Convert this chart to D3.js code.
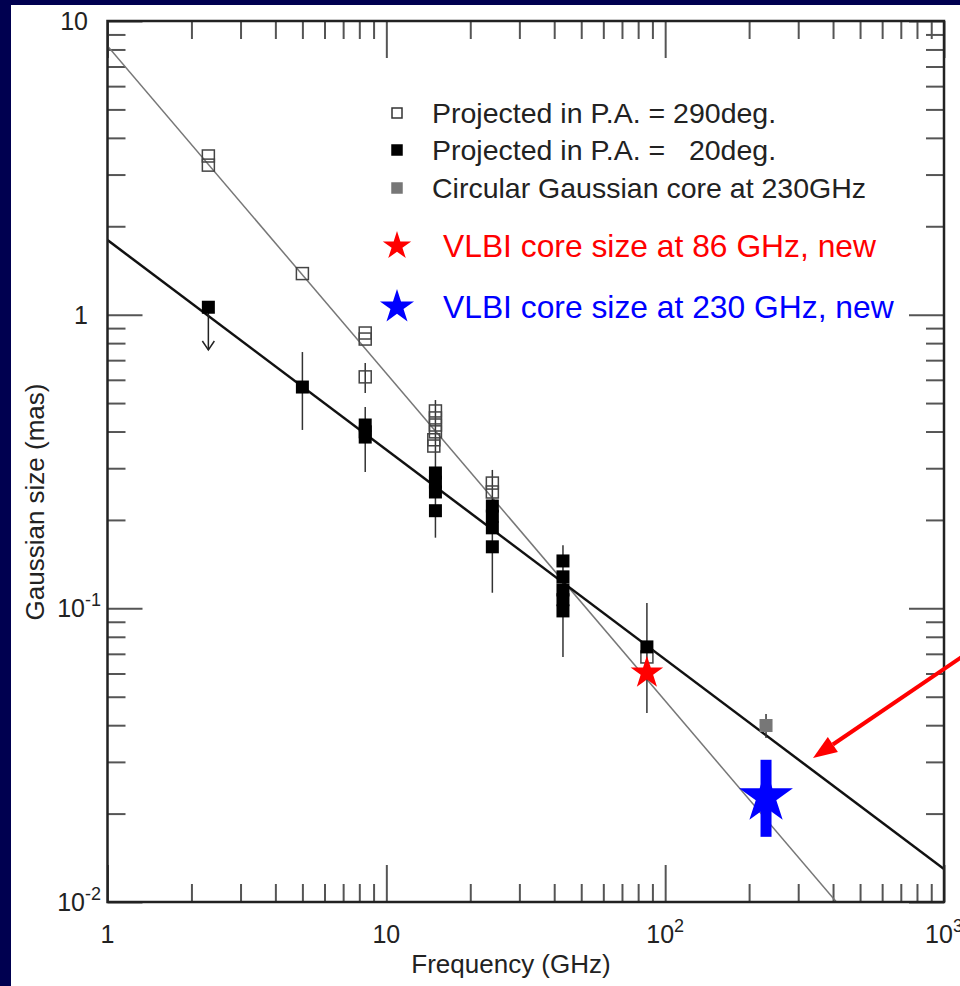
<!DOCTYPE html>
<html><head><meta charset="utf-8">
<script src="https://cdn.jsdelivr.net/npm/d3@7"></script>
<style>html,body{margin:0;padding:0;background:#000050;}svg{display:block;} text{white-space:pre;}</style>
</head><body>
<svg id="chart" width="960" height="986"></svg>
<script>
// ---- data ----
const openFreq = [2.3, 2.3, 5.0, 8.4, 8.4, 8.4, 15, 15, 15, 15, 14.8, 14.8, 24, 24, 86];
const openSize = [3.47, 3.23, 1.38, 0.866, 0.826, 0.614, 0.470, 0.445, 0.421, 0.399, 0.375, 0.357, 0.267, 0.249, 0.0683];
const filledFreq = [2.3, 5.0, 8.4, 8.4, 8.4, 15, 15, 15, 15, 24, 24, 24, 24, 43, 43, 43, 43, 43, 86];
const filledSize = [1.06, 0.567, 0.421, 0.399, 0.383, 0.289, 0.269, 0.249, 0.215, 0.223, 0.206, 0.188, 0.162, 0.145, 0.128, 0.1155, 0.107, 0.098, 0.0739];
const grayFreq = [230];
const graySize = [0.0399];
const errFreq = [5.0, 8.4, 8.4, 15, 24, 43, 86, 230];
const errLo = [0.405, 0.541, 0.291, 0.174, 0.113, 0.0683, 0.044, 0.0362];
const errHi = [0.746, 0.685, 0.485, 0.512, 0.296, 0.164, 0.1043, 0.0437];
const limitFreq = [2.3];
const limitFrom = [1.06];
const limitTo = [0.758];
const redStarFreq = [86], redStarSize = [0.0603];
const blueStarFreq = [230], blueStarSize = [0.0228], blueErrLo = [0.01667], blueErrHi = [0.0305];
// power-law fits: log10(size) = a + b*log10(freq)
const fitA = [0.915, 0.254];
const fitB = [-1.115, -0.714];
const xTickVals = [1, 10, 100, 1000];
const xTickBase = ["1", "10", "10", "10"];
const xTickExp = ["", "", "2", "3"];
const yTickVals = [10, 1, 0.1, 0.01];
const yTickBase = ["10", "1", "10", "10"];
const yTickExp = ["", "", "-1", "-2"];
const legendLabels = ["Projected in P.A. = 290deg.", "Projected in P.A. =   20deg.", "Circular Gaussian core at 230GHz"];
const starLabels = ["VLBI core size at 86 GHz, new", "VLBI core size at 230 GHz, new"];

// ---- layout ----
const svg = d3.select("#chart");
const L = 107.5, R = 944, T = 21, B = 902;
const x = d3.scaleLog().domain([1, 1000]).range([L, R]);
const y = d3.scaleLog().domain([0.01, 10]).range([B, T]);
const font = "'Liberation Sans', Arial, Helvetica, sans-serif";

svg.append("rect").attr("x", 0).attr("y", 0).attr("width", 960).attr("height", 986).attr("fill", "#000050");
svg.append("rect").attr("x", 11).attr("y", 5).attr("width", 949).attr("height", 981).attr("fill", "#ffffff");

svg.append("clipPath").attr("id", "clip").append("rect")
  .attr("x", L).attr("y", T).attr("width", R - L).attr("height", B - T);

// minor/major ticks
const minorX = [], minorY = [];
[1, 10, 100].forEach(d => { for (let k = 2; k <= 9; k++) minorX.push(d * k); });
[0.01, 0.1, 1].forEach(d => { for (let k = 2; k <= 9; k++) minorY.push(+(d * k).toPrecision(3)); });

function addAxis(gen, tr, vals, size) {
  const g = svg.append("g").attr("transform", tr)
    .call(gen.tickValues(vals).tickSize(size).tickFormat(""));
  g.select(".domain").remove();
  g.selectAll(".tick line").attr("stroke", "#555").attr("stroke-width", 2);
}
addAxis(d3.axisBottom(x), `translate(0,${B})`, minorX, -18);
addAxis(d3.axisBottom(x), `translate(0,${B})`, xTickVals, -37);
addAxis(d3.axisTop(x), `translate(0,${T})`, minorX, -18);
addAxis(d3.axisTop(x), `translate(0,${T})`, xTickVals, -37);
addAxis(d3.axisLeft(y), `translate(${L},0)`, minorY, -18);
addAxis(d3.axisLeft(y), `translate(${L},0)`, yTickVals, -35);
addAxis(d3.axisRight(y), `translate(${R},0)`, minorY, -18);
addAxis(d3.axisRight(y), `translate(${R},0)`, yTickVals, -35);

// tick labels
const xl = svg.append("g").attr("font-family", font).attr("fill", "#222");
xTickVals.forEach((v, i) => {
  const t = xl.append("text").attr("x", x(v)).attr("y", 943).attr("text-anchor", "middle").attr("font-size", 25);
  t.append("tspan").text(xTickBase[i]);
  if (xTickExp[i]) t.append("tspan").attr("font-size", 18).attr("dy", -11).text(xTickExp[i]);
});
yTickVals.forEach((v, i) => {
  const t = xl.append("text").attr("x", yTickExp[i] ? 101 : 88).attr("y", y(v) + 9)
    .attr("text-anchor", "end").attr("font-size", 25);
  t.append("tspan").text(yTickBase[i]);
  if (yTickExp[i]) t.append("tspan").attr("font-size", 18).attr("dy", -11).text(yTickExp[i]);
});
xl.append("text").attr("x", 511).attr("y", 973).attr("text-anchor", "middle").attr("font-size", 26).text("Frequency (GHz)");
xl.append("text").attr("transform", "translate(44,502) rotate(-90)").attr("text-anchor", "middle").attr("font-size", 26).text("Gaussian size (mas)");

// fit lines
const plot = svg.append("g").attr("clip-path", "url(#clip)");
const fitColor = ["#777", "#111"], fitWidth = [1.5, 2.5];
fitA.forEach((a, i) => {
  const f = d => Math.pow(10, a + fitB[i] * Math.log10(d));
  plot.append("line").attr("x1", x(1)).attr("y1", y(f(1))).attr("x2", x(1000)).attr("y2", y(f(1000)))
    .attr("stroke", fitColor[i]).attr("stroke-width", fitWidth[i]);
});
// error bars
plot.selectAll(".err").data(errFreq).join("line")
  .attr("x1", d => x(d)).attr("x2", d => x(d))
  .attr("y1", (d, i) => y(errLo[i])).attr("y2", (d, i) => y(errHi[i]))
  .attr("stroke", "#333").attr("stroke-width", 1.5);
// upper limit arrow
limitFreq.forEach((f, i) => {
  const xx = x(f), y0 = y(limitFrom[i]), y1 = y(limitTo[i]);
  plot.append("line").attr("x1", xx).attr("x2", xx).attr("y1", y0).attr("y2", y1).attr("stroke", "#222").attr("stroke-width", 1.5);
  plot.append("path").attr("d", `M${xx - 6},${y1 - 9}L${xx},${y1}L${xx + 6},${y1 - 9}`)
    .attr("fill", "none").attr("stroke", "#222").attr("stroke-width", 1.5);
});
// open squares
const so = 12;
plot.selectAll(".open").data(openFreq).join("rect")
  .attr("x", d => x(d) - so / 2).attr("y", (d, i) => y(openSize[i]) - so / 2)
  .attr("width", so).attr("height", so).attr("fill", "none").attr("stroke", "#444").attr("stroke-width", 1.5);
// filled squares
const sf = 13;
plot.selectAll(".filled").data(filledFreq).join("rect")
  .attr("x", d => x(d) - sf / 2).attr("y", (d, i) => y(filledSize[i]) - sf / 2)
  .attr("width", sf).attr("height", sf).attr("fill", "#000");
plot.selectAll(".gray").data(grayFreq).join("rect")
  .attr("x", d => x(d) - sf / 2).attr("y", (d, i) => y(graySize[i]) - sf / 2)
  .attr("width", sf).attr("height", sf).attr("fill", "#777");
// stars
const star = d3.symbol().type(d3.symbolStar);
redStarFreq.forEach((f, i) => {
  plot.append("path").attr("d", star.size(330)()).attr("fill", "#ff0000")
    .attr("transform", `translate(${x(f)},${y(redStarSize[i])})`);
});
blueStarFreq.forEach((f, i) => {
  plot.append("path").attr("d", star.size(900)()).attr("fill", "#0000ff")
    .attr("transform", `translate(${x(f)},${y(blueStarSize[i])})`);
  plot.append("line").attr("x1", x(f)).attr("x2", x(f)).attr("y1", y(blueErrLo[i])).attr("y2", y(blueErrHi[i]))
    .attr("stroke", "#0000ff").attr("stroke-width", 11);
});

// frame
svg.append("rect").attr("x", L).attr("y", T).attr("width", R - L).attr("height", B - T)
  .attr("fill", "none").attr("stroke", "#222").attr("stroke-width", 2.5);

// legend
const lg = svg.append("g").attr("font-family", font);
const lgY = [113, 150, 188];
const lgStyle = [{f: "none", s: "#333"}, {f: "#000", s: "#000"}, {f: "#777", s: "#777"}];
legendLabels.forEach((t, i) => {
  lg.append("rect").attr("x", 392).attr("y", lgY[i] - 5).attr("width", 10).attr("height", 10)
    .attr("fill", lgStyle[i].f).attr("stroke", lgStyle[i].s).attr("stroke-width", 1.5);
  lg.append("text").attr("x", 432).attr("y", lgY[i] + 10).attr("font-size", 28.5).attr("fill", "#222")
    .attr("xml:space", "preserve").text(t);
});
const stY = [246, 307], stCol = ["#ff0000", "#0000ff"], stSize = [250, 360];
starLabels.forEach((t, i) => {
  lg.append("path").attr("d", star.size(stSize[i])()).attr("fill", stCol[i])
    .attr("transform", `translate(397,${stY[i]})`);
  lg.append("text").attr("x", 443).attr("y", stY[i] + 11).attr("font-size", 31.8).attr("fill", stCol[i]).text(t);
});

// red arrow
const ax0 = 975, ay0 = 648, ax1 = 813, ay1 = 758;
const ang = Math.atan2(ay1 - ay0, ax1 - ax0);
const hl = 24, hw = 9;
const bx = ax1 - hl * Math.cos(ang), by = ay1 - hl * Math.sin(ang);
svg.append("line").attr("x1", ax0).attr("y1", ay0).attr("x2", bx).attr("y2", by)
  .attr("stroke", "#ff0000").attr("stroke-width", 4);
svg.append("path").attr("d",
  `M${ax1},${ay1}L${bx + hw * Math.sin(ang)},${by - hw * Math.cos(ang)}L${bx - hw * Math.sin(ang)},${by + hw * Math.cos(ang)}Z`)
  .attr("fill", "#ff0000");
</script>
</body></html>
